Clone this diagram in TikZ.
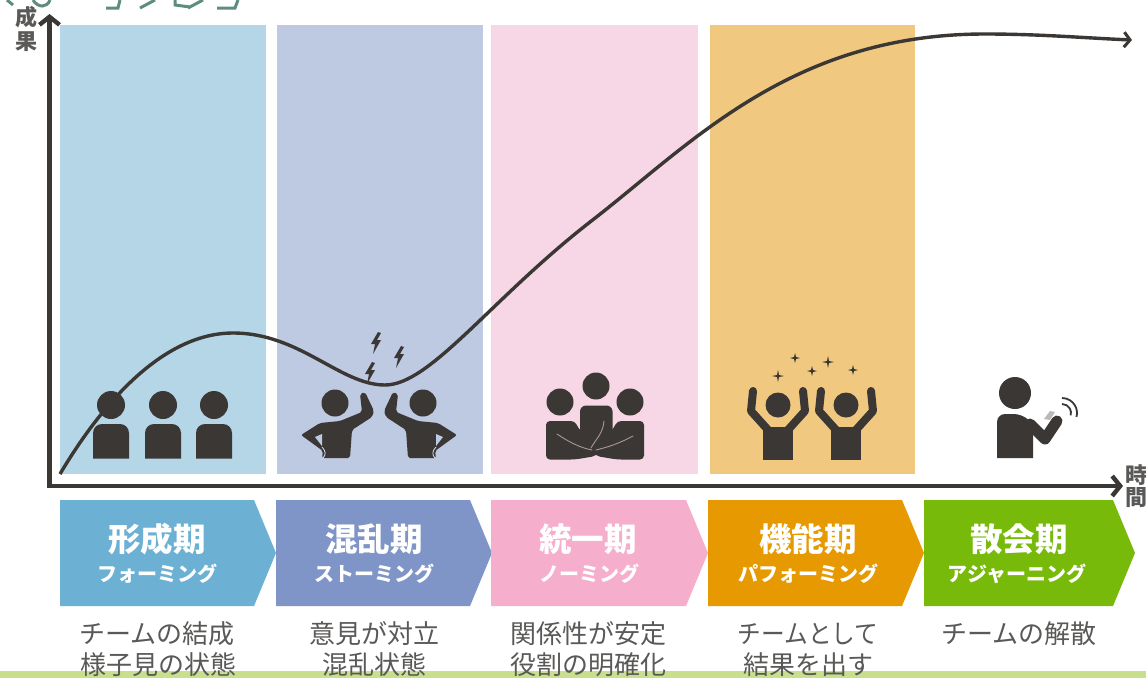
\documentclass[tikz,border=0pt]{standalone}
\usepackage{fontspec}
\setmainfont{Noto Sans CJK JP}
\usetikzlibrary{arrows.meta}
\definecolor{ink}{HTML}{3A3734}
\definecolor{lbl}{HTML}{5A5957}
\definecolor{teal}{HTML}{5E8C80}
\definecolor{pA}{HTML}{B5D6E7}\definecolor{pB}{HTML}{BEC9E2}\definecolor{pC}{HTML}{F7D6E6}\definecolor{pD}{HTML}{F0C87F}
\definecolor{cA}{HTML}{6CB0D3}\definecolor{cB}{HTML}{7F95C7}\definecolor{cC}{HTML}{F5AECB}\definecolor{cD}{HTML}{E69900}\definecolor{cE}{HTML}{78BA0A}
\definecolor{strip}{HTML}{C8E08E}
\tikzset{
  panel/.style={fill=#1,draw=none},
  chev/.style={fill=#1,draw=none},
  ttl/.style={text=white,font=\fontsize{32.5}{32.5}\selectfont\bfseries,inner sep=0pt},
  sub/.style={text=white,font=\fontsize{20}{20}\selectfont\bfseries,inner sep=0pt},
  desc/.style={text=lbl,font=\fontsize{26}{26}\selectfont,inner sep=0pt},
  axl/.style={text=lbl,font=\fontsize{22}{22}\selectfont\bfseries,inner sep=0pt},
  axis/.style={draw=ink,line width=4.6pt,-{Straight Barb[length=8pt,width=20pt,line width=4.4pt]}},
  limb/.style={draw=ink,line cap=round,line join=round},
  seam/.style={draw=pC!60!ink,line width=0.9pt,line cap=round},
}
\newcommand{\chevron}[3]{% colour, left, shoulder
  \fill[chev=#1] (#2,500) -- (#3,500) -- ++(22,53) -- (#3,606) -- (#2,606) -- cycle;}
\newcommand{\boltz}[2]{%
  \fill[ink,shift={(#1,#2)}] (2,-11) -- (-5,1) -- (-1,1) -- (-3,11) -- (5,-3) -- (1,-3) -- (5,-10) -- cycle;}
\newcommand{\sparkle}[3]{%
  \fill[ink,shift={(#1,#2)}] (0,-#3) -- (1,-1) -- (#3,0) -- (1,1) -- (0,#3) -- (-1,1) -- (-#3,0) -- (-1,-1) -- cycle;}
\newcommand{\blockman}[1]{%
  \fill[ink] (#1,405) circle (14);
  \fill[ink,rounded corners=9pt] (#1-18,458.5) [sharp corners] -- (#1-18,440) [rounded corners=9pt] -- (#1-18,424) -- (#1+18,424) [sharp corners] -- (#1+18,440) -- (#1+18,458.5) -- cycle;}
\newcommand{\cheerman}[1]{%
  \begin{scope}[shift={(#1,0)}]
  \fill[ink] (0,405) circle (12.5);
  \fill[ink] (-15,459.5) -- (-15,428) -- (15,428) -- (15,459.5) -- cycle;
  \draw[limb,line width=8pt] (-25,391) -- (-27,411) -- (-9,431) -- (9,431) -- (27,411) -- (25,391);
  \end{scope}}
\newcommand{\stormman}{%
  \fill[ink] (335,403) circle (13.5);
  \fill[ink,rounded corners=2pt] (360,394) -- (365,392) -- (374,411) -- (372,417) -- (352,430) -- (350,458) -- (322,458) -- (323,451) -- (301,435) -- (320,423) -- (340,421) -- (362,412) -- cycle;
  \fill[pB] (315,437) -- (322,434) -- (322,446) -- cycle;
  \draw[pB!60!white,line width=0.8pt] (322,447) .. controls (326,451) and (326,455) .. (323,458);}
\begin{document}
\begin{tikzpicture}[x=1pt,y=-1pt]
\useasboundingbox (0,0) rectangle (1146,678);
\fill[white] (0,0) rectangle (1146,678);
% bottom strip
\fill[strip] (0,671) rectangle (1146,678);
% cut-off heading
\begin{scope}[draw=teal,line width=3pt]
\draw (7,0) -- (13,5) (33,0) .. controls (38,8) and (47,8) .. (50,0);
\draw (106,8) -- (118,8) -- (120,0) (140,8) -- (155,0);
\draw (175,0) -- (175,5) -- (190,7) (188,8) -- (203,0);
\draw (217,8) -- (235,8) -- (238,0);
\end{scope}
% panels
\fill[panel=pA] (60,25) rectangle (266,474);
\fill[panel=pB] (277,25) rectangle (483,474);
\fill[panel=pC] (491,25) rectangle (698,474);
\fill[panel=pD] (710,25) rectangle (915,474);
% axes
\coordinate (orig) at (49.5,486);
\coordinate (ytop) at (49.5,14);
\coordinate (xend) at (1123,486);
\draw[axis] (49.5,488) -- (ytop);
\draw[axis] (47.5,486) -- (xend);
\node[axl] (yA) at (26,17) {成};
\node[axl] (yB) at (26,42) {果};
\node[axl] (xA) at (1136,475) {時};
\node[axl] (xB) at (1136,498) {間};
% curve
\draw[ink,line width=3.4pt,-{Straight Barb[length=6pt,width=15pt,line width=3pt]}]
 (60,474) .. controls (85,432) and (150,333) .. (233,333)
 .. controls (300,333) and (340,385) .. (385,385)
 .. controls (430,385) and (490,300) .. (590,222)
 .. controls (690,145) and (790,34) .. (985,34)
 .. controls (1040,34) and (1085,38) .. (1132,40);
% icons
\blockman{111}\blockman{163}\blockman{214}
\stormman
\begin{scope}[xshift=758pt,xscale=-1]\stormman\end{scope}
\boltz{376}{343}\boltz{399}{357}\boltz{370}{373}
% unity
\fill[ink] (596,386) circle (13.5) (560,402) circle (13.5) (630,402) circle (13.5);
\fill[ink,rounded corners=6pt] (580,452) -- (580,405.5) -- (612.5,405.5) -- (612.5,452) -- cycle;
\fill[ink,rounded corners=4pt] (546,459.5) -- (546,421) -- (575,421) -- (578,428) -- (600,450) -- (596,456) -- (575,459.5) -- cycle;
\fill[ink,rounded corners=4pt] (644,459.5) -- (644,421) -- (617,421) -- (614,428) -- (592,450) -- (596,456) -- (617,459.5) -- cycle;
\draw[seam] (557,434) .. controls (572,444) and (582,448) .. (592,450);
\draw[seam] (633,436) .. controls (618,444) and (608,447) .. (596,450);
\draw[seam] (604,421) .. controls (603,434) and (595,440) .. (591,448);
% cheer
\cheerman{778}\cheerman{846}
\sparkle{778}{376}{6}\sparkle{795}{358}{5}\sparkle{812}{371}{5}\sparkle{828}{362}{6}\sparkle{853}{370}{5}
% solo
\fill[ink] (1015,393) circle (16);
\fill[ink,rounded corners=8pt] (997,458) [sharp corners] -- (997,435) [rounded corners=8pt] -- (997,414) -- (1022,414) [sharp corners] -- (1033,424) -- (1033,458) -- cycle;
\draw[limb,line width=11pt] (1030,424) -- (1045,439) -- (1057,421);
\fill[ink!35!white] (1044,419) -- (1050,411) -- (1055,412) -- (1050,420) -- cycle;
\draw[ink,line width=1.8pt] (1062,413) ++(-90:9) arc[start angle=-90,end angle=15,radius=9];
\draw[ink,line width=1.8pt] (1062,413) ++(-90:15) arc[start angle=-90,end angle=15,radius=15];
% chevrons
\chevron{cA}{60}{254}
\chevron{cB}{276}{470}
\chevron{cC}{491}{686}
\chevron{cD}{708}{902}
\chevron{cE}{924}{1113}
\node[ttl] (tA) at (157,539) {形成期};
\node[ttl] (tB) at (374,539) {混乱期};
\node[ttl] (tC) at (588,539) {統一期};
\node[ttl] (tD) at (808,539) {機能期};
\node[ttl] (tE) at (1019,539) {散会期};
\node[sub] (sA) at (157,574) {フォーミング};
\node[sub] (sB) at (374,574) {ストーミング};
\node[sub] (sC) at (589,574) {ノーミング};
\node[sub] (sD) at (808,574) {パフォーミング};
\node[sub] (sE) at (1017,574) {アジャーニング};
\node[desc] (dA) at (157,634) {チームの結成};
\node[desc] (dAb) at (158,665) {様子見の状態};
\node[desc] (dB) at (374,634) {意見が対立};
\node[desc] (dBb) at (374,665) {混乱状態};
\node[desc] (dC) at (588,634) {関係性が安定};
\node[desc] (dCb) at (588,665) {役割の明確化};
\node[desc,xscale=0.91] (dD) at (808,634) {チームとして};
\node[desc] (dDb) at (808,665) {結果を出す};
\node[desc] (dE) at (1019,634) {チームの解散};
\end{tikzpicture}
\end{document}
